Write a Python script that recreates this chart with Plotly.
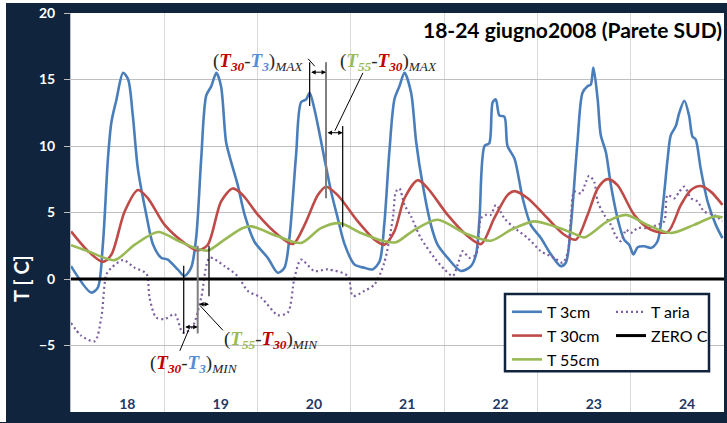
import plotly.graph_objects as go

# ---------------- data (x in hours from 18 June 00:00, y in deg C) ----------------
day_labels = ["18", "19", "20", "21", "22", "23", "24"]

t3_pts = [(0, 0.97), (5.2, -1.02), (6.9, -0.65), (8.2, 2.6), (9.5, 9.05), (10.4, 11.8), (11.7, 13.5),
          (13.4, 15.5), (14.7, 15.0), (15.9, 12.3), (17.2, 8.3), (19.4, 4.8), (21.1, 2.6), (23.2, 1.6),
          (24.9, 1.46), (27.5, 0.7), (29.2, 0.22), (30.9, 0.84), (32.2, 3.1), (33.5, 9.05), (34.8, 13.8),
          (36.1, 14.5), (37.4, 15.5), (38.6, 14.5), (39.9, 10.3), (41.2, 8.8), (42.9, 7.06), (44.7, 4.8),
          (47.2, 2.8), (50.6, 1.6), (53.2, 0.47), (54.9, 0.84), (56.2, 3.1), (57.9, 9.3), (59.2, 13.3),
          (60.5, 13.5), (61.4, 14.0), (62.6, 12.8), (63.9, 11.0), (65.2, 9.05), (66.9, 6.6), (68.6, 4.6),
          (70.4, 2.6), (72.9, 1.1), (75.5, 0.84), (77.6, 0.72), (79.4, 1.34), (80.6, 4.1), (81.9, 9.55),
          (83.2, 13.5), (84.5, 14.5), (85.8, 15.5), (87.5, 14.0), (88.8, 10.3), (90.5, 7.06), (92.6, 4.07),
          (94.3, 2.58), (96.9, 1.59), (100.3, 0.6), (102.9, 0.97), (104.2, 1.84), (105.1, 4.57), (106.4, 10.0),
          (107.6, 10.2), (108.5, 13.3), (109.3, 13.5), (110.2, 12.3), (111.5, 12.2), (112.3, 10.0), (114.1, 9.05),
          (116.2, 6.07), (118.3, 4.07), (120.9, 3.08), (123.5, 1.84), (126.0, 0.97), (127.3, 1.22), (128.6, 4.0),
          (130.3, 10.3), (131.6, 14.0), (132.9, 14.5), (133.7, 14.6), (134.4, 15.9), (135.5, 13.5), (136.3, 10.8),
          (137.6, 9.55), (138.9, 7.06), (140.6, 4.57), (142.3, 2.96), (143.6, 2.58), (144.7, 1.84), (145.8, 2.39),
          (147.5, 2.46), (149.2, 2.34), (150.9, 2.84), (152.2, 5.32), (153.5, 9.05), (154.3, 10.8), (155.6, 11.5),
          (156.5, 12.5), (157.8, 13.4), (159.0, 12.3), (159.9, 10.7), (160.7, 10.5), (162.0, 8.3), (163.8, 5.8),
          (165.9, 4.07), (167.6, 3.08)]

t30_pts = [(0, 3.58), (4.4, 2.09), (8.2, 1.29), (10.4, 1.84), (13.8, 5.07), (17.2, 6.69), (19.8, 6.07),
           (24.1, 4.07), (29.2, 2.71), (32.6, 2.14), (35.2, 2.58), (38.6, 5.82), (41.6, 6.81), (44.2, 6.31),
           (48.1, 4.82), (53.2, 3.33), (57.1, 2.63), (60.1, 4.07), (63.5, 6.31), (65.6, 6.94), (68.6, 6.31),
           (73.8, 4.33), (78.1, 2.96), (80.6, 2.58), (83.2, 3.58), (85.8, 6.07), (89.2, 7.43), (91.8, 6.81),
           (96.9, 4.82), (102.1, 3.21), (105.5, 2.63), (108.9, 4.57), (112.3, 6.31), (114.1, 6.61), (117.5, 6.07),
           (122.6, 4.57), (126.9, 3.33), (129.9, 2.96), (132.9, 4.82), (135.5, 6.81), (138.0, 7.51), (140.6, 7.06),
           (144.9, 4.82), (149.2, 3.7), (153.5, 3.53), (156.9, 5.57), (159.5, 6.69), (162.0, 6.99), (164.6, 6.57),
           (167.6, 5.57)]

t55_pts = [(0, 2.54), (4.4, 2.09), (11.2, 1.42), (16.4, 2.58), (22.4, 3.53), (27.5, 2.88), (31.8, 2.34),
           (35.2, 2.14), (39.5, 2.96), (44.2, 3.83), (46.4, 3.96), (53.2, 3.21), (59.2, 2.71), (64.3, 3.83),
           (69.1, 4.2), (74.6, 3.46), (80.6, 2.84), (83.6, 2.76), (87.9, 3.6), (94.3, 4.45), (101.2, 3.46),
           (108.0, 2.88), (113.2, 3.7), (119.2, 4.33), (124.3, 3.96), (129.0, 3.46), (132.1, 3.13), (138.0, 4.33),
           (142.8, 4.82), (148.3, 4.07), (154.3, 3.46), (160.3, 4.07), (165.5, 4.7), (167.6, 4.63)]

taria_pts = [(0, -3.3), (2.6, -4.25), (6.1, -4.68), (7.8, -2.89), (9.1, 0.34), (10.4, 0.84), (13.4, 1.42),
             (16.4, 0.84), (19.4, 0.4), (20.2, -1.4), (21.9, -2.89), (24.1, -3.01), (26.7, -2.64), (28.4, -3.88),
             (29.2, -4.08), (31.4, -3.51), (33.5, -1.4), (35.7, 1.59), (39.5, 0.97), (42.9, 0.2), (45.5, -0.9),
             (48.9, -1.4), (53.2, -2.71), (55.8, -2.51), (57.5, 0.1), (59.2, 1.46), (62.6, 0.6), (66.1, 0.72),
             (71.2, 0.22), (72.5, -1.27), (75.5, -0.9), (78.1, -0.4), (80.6, 1.22), (82.8, 4.57), (83.6, 6.57),
             (84.5, 6.81), (85.8, 5.57), (87.5, 4.7), (90.0, 3.08), (93.5, 1.59), (96.1, 0.72), (98.2, 0.22),
             (99.5, 1.09), (100.8, 2.09), (102.5, 1.59), (104.2, 1.84), (105.5, 4.57), (106.8, 4.82), (108.0, 4.82),
             (109.3, 5.57), (111.5, 4.57), (114.1, 3.83), (117.5, 3.08), (120.9, 2.09), (124.3, 1.59), (126.5, 1.22),
             (127.8, 2.0), (128.6, 4.57), (129.5, 6.57), (131.2, 6.44), (132.5, 7.31), (133.3, 7.76), (134.6, 7.31),
             (135.5, 5.82), (137.2, 4.82), (138.9, 4.07), (140.2, 3.21), (141.5, 2.84), (142.8, 3.7), (144.0, 3.46),
             (145.8, 3.83), (148.3, 3.83), (150.9, 4.07), (152.6, 4.33), (153.5, 6.31), (155.3, 6.07), (156.5, 6.57),
             (157.8, 6.94), (159.5, 6.07), (161.2, 5.82), (162.9, 5.07), (165.5, 4.82), (167.6, 4.33)]

zero_x = [0, 168]
zero_y = [0, 0]

# guide lines used by the (dT)MAX / (dT)MIN call-outs: (hour, y_from, y_to, colour)
guide_lines = [(61.4, 16.3, 13.0, "black"), (65.6, 16.3, 6.07, "#7F7F7F"), (69.9, 11.5, 3.9, "black"),
               (29.0, 1.0, -4.1, "black"), (32.6, 2.5, -4.1, "#7F7F7F"), (35.5, 2.5, -1.3, "black")]
# double arrows: (hour_from, hour_to, y)
double_arrows = [(61.4, 65.6, 15.55), (65.6, 69.9, 11.0), (29.0, 32.6, -3.6), (32.6, 35.5, -1.9)]
# leader lines: (h0, y0, h1, y1)
leaders = [(61.0, 16.56, 62.7, 16.0), (75.1, 15.5, 67.9, 11.15), (30.3, -3.8, 28.0, -5.4), (33.2, -2.0, 39.1, -3.86)]

# ---------------- styling ----------------
NAVY = "#10243E"
C_T3, C_T30, C_T55, C_ARIA = "#4A7EBB", "#BE4B48", "#98B954", "#7D60A0"
FONT = "Lato"

def unzip(pts):
    return [p[0] for p in pts], [p[1] for p in pts]

fig = go.Figure()

def add_line(pts, name, color, legend, rank, dash="solid", width=2.6):
    x, y = unzip(pts)
    fig.add_trace(go.Scatter(x=x, y=y, mode="lines", name=name, legend=legend, legendrank=rank,
                             line=dict(color=color, width=width, dash=dash, shape="spline", smoothing=0.8)))

add_line(t3_pts, "T 3cm", C_T3, "legend", 1)
add_line(taria_pts, "T aria", C_ARIA, "legend2", 1, dash="2px,3px", width=2.2)
add_line(t30_pts, "T 30cm", C_T30, "legend", 2)
fig.add_trace(go.Scatter(x=zero_x, y=zero_y, mode="lines", name="ZERO C", legend="legend2", legendrank=2,
                         line=dict(color="black", width=3)))
add_line(t55_pts, "T 55cm", C_T55, "legend", 3)

W, H = 727, 423
ML, MR, MT, MB = 71, 3, 13, 8
PW, PH = W - ML - MR, H - MT - MB

def px(xp):
    return (xp - ML) / PW

def py(yp):
    return (H - MB - yp) / PH

shapes = [
    # thin white margin at the top and left of the dark frame
    dict(type="rect", xref="paper", yref="paper", x0=px(-2), x1=px(6), y0=py(H + 2), y1=py(-2),
         fillcolor="white", line=dict(width=0), layer="below"),
    dict(type="rect", xref="paper", yref="paper", x0=px(-2), x1=px(W + 2), y0=py(3), y1=py(-2),
         fillcolor="white", line=dict(width=0), layer="below"),
    # legend box
    dict(type="rect", xref="paper", yref="paper", x0=px(505), x1=px(709), y0=py(374), y1=py(296),
         fillcolor="white", line=dict(color=NAVY, width=2.5), layer="above"),
]
for h, a, b, c in guide_lines:
    shapes.append(dict(type="line", xref="x", yref="y", x0=h, x1=h, y0=a, y1=b,
                       line=dict(color=c, width=2 if c != "black" else 1.2), layer="above"))
for h0, y0, h1, y1 in leaders:
    shapes.append(dict(type="line", xref="x", yref="y", x0=h0, x1=h1, y0=y0, y1=y1,
                       line=dict(color="black", width=1), layer="above"))

annotations = []
for h0, h1, y in double_arrows:
    annotations.append(dict(x=h1, y=y, ax=h0, ay=y, xref="x", yref="y", axref="x", ayref="y", text="",
                            showarrow=True, arrowhead=2, startarrowhead=2, arrowside="end+start",
                            arrowsize=0.9, startarrowsize=0.9, arrowwidth=1, arrowcolor="black"))

def T(color, sub):
    return (f"<b><i><span style='color:{color}'>T</span><sub><span style='color:{color}'>{sub}</span></sub></i></b>")

RED, BLUE, GREEN = "#C00000", "#558ED5", "#9BBB59"
lab_font = dict(family="Liberation Serif", size=19, color="#262626")
labels = [
    ("(" + T(RED, "30") + "-" + T(BLUE, "3") + ")<sub><i>MAX</i></sub>", 60.2, 16.3, "right"),
    ("(" + T(GREEN, "55") + "-" + T(RED, "30") + ")<sub><i>MAX</i></sub>", 68.6, 16.3, "left"),
    ("(" + T(GREEN, "55") + "-" + T(RED, "30") + ")<sub><i>MIN</i></sub>", 38.8, -4.6, "left"),
    ("(" + T(RED, "30") + "-" + T(BLUE, "3") + ")<sub><i>MIN</i></sub>", 19.8, -6.4, "left"),
]
for txt, x, y, anchor in labels:
    annotations.append(dict(x=x, y=y, xref="x", yref="y", text=txt, showarrow=False, xanchor=anchor,
                            yanchor="middle", font=lab_font))

annotations.append(dict(x=1, y=py(30), xref="paper", yref="paper", text="<b>18-24 giugno2008 (Parete SUD)</b>",
                        showarrow=False, xanchor="right", yanchor="middle",
                        font=dict(family=FONT, size=21, color="black")))
annotations.append(dict(x=px(21), y=0, xref="paper", yref="y", text="<b>T [ C]</b>", textangle=-90,
                        showarrow=False, xanchor="center", yanchor="middle",
                        font=dict(family=FONT, size=20, color="white")))

tick_hours = [24 * i + 14.5 for i in range(len(day_labels))]

fig.update_layout(
    width=W, height=H, margin=dict(l=ML, r=MR, t=MT, b=MB, pad=0),
    paper_bgcolor=NAVY, plot_bgcolor="white",
    font=dict(family=FONT),
    showlegend=True,
    legend=dict(x=px(507), y=py(297), xanchor="left", yanchor="top", bgcolor="rgba(0,0,0,0)",
                borderwidth=0, font=dict(family=FONT, size=16, color="black"), tracegroupgap=0),
    legend2=dict(x=px(611), y=py(297), xanchor="left", yanchor="top", bgcolor="rgba(0,0,0,0)",
                 borderwidth=0, font=dict(family=FONT, size=16, color="black"), tracegroupgap=0),
    shapes=shapes, annotations=annotations,
    xaxis=dict(range=[0, 168], tickmode="array", tickvals=tick_hours, ticktext=day_labels,
               ticklabelposition="inside", ticklabelstandoff=-3, ticks="", showgrid=False, zeroline=False,
               tickfont=dict(family=FONT, size=14, color="#1F3864", weight="bold"),
               minor=dict(tickmode="linear", tick0=0, dtick=24, showgrid=True, gridcolor="#D9D9D9",
                          gridwidth=1, ticks=""),
               showline=False, fixedrange=True),
    yaxis=dict(range=[-10, 20], dtick=5, tick0=0, showgrid=True, gridcolor="#BFBFBF", gridwidth=1,
               zeroline=False, ticks="outside", ticklen=6, tickcolor="#BFBFBF", ticklabelstandoff=6,
               showline=True, linecolor="#BFBFBF", linewidth=1,
               tickfont=dict(family=FONT, size=14, color="white", weight="bold")),
)

fig.write_html("out.html")
